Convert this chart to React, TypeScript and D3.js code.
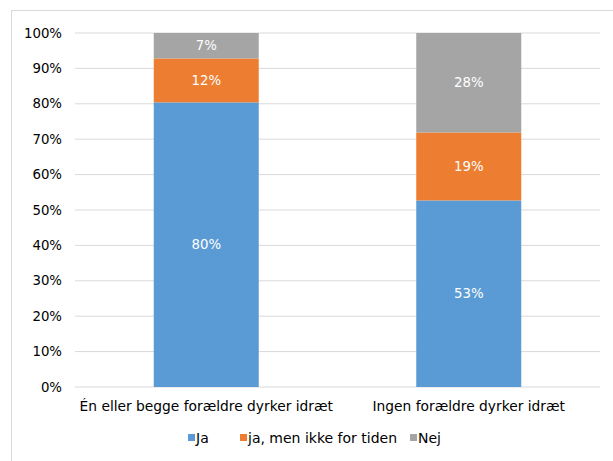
import React from "react";
import * as d3 from "d3";

const categories = ["Én eller begge forældre dyrker idræt", "Ingen forældre dyrker idræt"];
const seriesNames = ["Ja", "ja, men ikke for tiden", "Nej"];
const jaValues = [80.4, 52.7];
const jaMenIkkeValues = [12.4, 19.2];
const nejValues = [7.2, 28.1];
const yTicks = [0, 10, 20, 30, 40, 50, 60, 70, 80, 90, 100];
const colors = ["#5B9BD5", "#ED7D31", "#A5A5A5"];

const W = 613;
const H = 461;
const margin = { left: 75, right: 13, top: 33, bottom: 74 };
const font = "'DejaVu Sans', Verdana, sans-serif";

export default function App() {
  const rows = categories.map((c, i) => ({
    cat: c,
    [seriesNames[0]]: jaValues[i],
    [seriesNames[1]]: jaMenIkkeValues[i],
    [seriesNames[2]]: nejValues[i],
  }));
  const stack = d3.stack<any>().keys(seriesNames)(rows);

  const x = d3
    .scaleBand()
    .domain(categories)
    .range([margin.left, W - margin.right])
    .paddingInner(0.6)
    .paddingOuter(0.3);
  const y = d3.scaleLinear().domain([0, 100]).range([H - margin.bottom, margin.top]);

  const legendItems = [
    { name: seriesNames[0], x: 188 },
    { name: seriesNames[1], x: 240 },
    { name: seriesNames[2], x: 410 },
  ];

  return (
    <svg
      width={W}
      height={H}
      style={{ position: "absolute", left: 0, top: 0, background: "#fff" }}
      fontFamily={font}
    >
      <rect x={11.5} y={10.5} width={W} height={H} fill="#fff" stroke="#d9d9d9" />
      {yTicks.map((t) => (
        <g key={t}>
          <line x1={margin.left} x2={W - margin.right} y1={y(t)} y2={y(t)} stroke="#d9d9d9" strokeWidth={1} />
          <text x={62} y={y(t)} dy="0.35em" textAnchor="end" fontSize={13.3} fill="#000">
            {t}%
          </text>
        </g>
      ))}
      {stack.map((s, si) =>
        s.map((d, i) => {
          const x0 = x(categories[i])!;
          const bw = x.bandwidth();
          const v = d[1] - d[0];
          return (
            <g key={`${si}-${i}`}>
              <rect x={x0} y={y(d[1])} width={bw} height={y(d[0]) - y(d[1])} fill={colors[si]} />
              <text
                x={x0 + bw / 2}
                y={(y(d[0]) + y(d[1])) / 2}
                dy="0.35em"
                textAnchor="middle"
                fontSize={13.3}
                fill="#fff"
              >
                {Math.round(v)}%
              </text>
            </g>
          );
        })
      )}
      {categories.map((c) => (
        <text
          key={c}
          x={x(c)! + x.bandwidth() / 2}
          y={406}
          dy="0.35em"
          textAnchor="middle"
          fontSize={13.8}
          fill="#000"
        >
          {c}
        </text>
      ))}
      {legendItems.map((l, i) => (
        <g key={l.name}>
          <rect x={l.x} y={434} width={7} height={7} fill={colors[i]} />
          <text x={l.x + 8} y={438} dy="0.35em" fontSize={14} fill="#000">
            {l.name}
          </text>
        </g>
      ))}
    </svg>
  );
}
